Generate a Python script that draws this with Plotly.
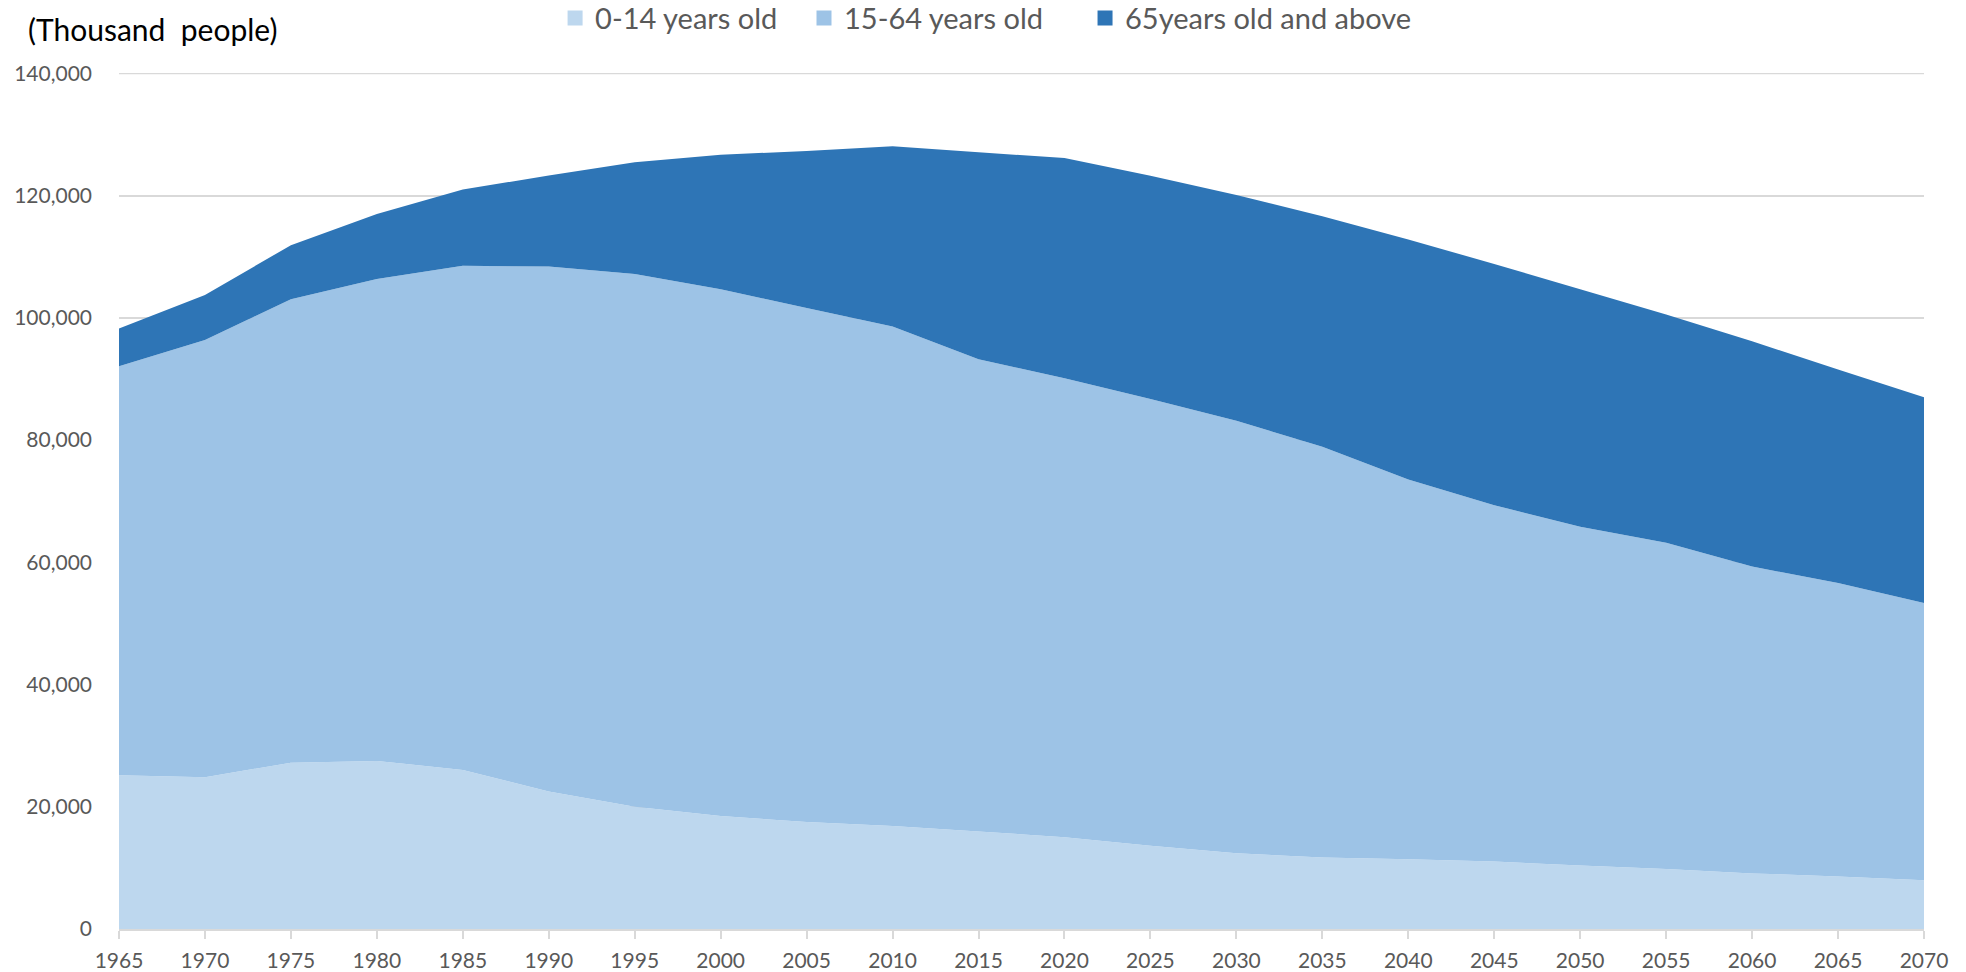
import plotly.graph_objects as go

# Population of Japan by age group (thousand people), census and projection
years = [1965, 1970, 1975, 1980, 1985, 1990, 1995, 2000, 2005, 2010, 2015,
         2020, 2025, 2030, 2035, 2040, 2045, 2050, 2055, 2060, 2065, 2070]

age_0_14 = [25166, 24823, 27221, 27507, 26033, 22486, 20014, 18472, 17521, 16839, 15945,
            15032, 13633, 12397, 11691, 11419, 11027, 10406, 9800, 9100, 8600, 7975]

age_15_64 = [66928, 71566, 75807, 78835, 82506, 85904, 87165, 86220, 84092, 81735, 77282,
             75088, 73101, 70757, 67216, 62133, 58323, 55402, 53400, 50200, 48000, 45350]

age_65_over = [6181, 7331, 8865, 10647, 12468, 14895, 18261, 22005, 25672, 29484, 33868,
               36027, 36529, 36962, 37732, 39285, 39451, 38878, 37350, 36850, 34950, 33671]

series_names = ["0-14 years old", "15-64 years old", "65years old and above"]
series_colors = ["#BDD7EE", "#9DC3E6", "#2E75B6"]
series_values = [age_0_14, age_15_64, age_65_over]

y_ticks = [0, 20000, 40000, 60000, 80000, 100000, 120000, 140000]
y_tick_text = ["0", "20,000", "40,000", "60,000", "80,000", "100,000", "120,000", "140,000"]

FONT = "Lato"
GREY_TEXT = "#595959"
GRID = "#D9D9D9"

fig = go.Figure()

# Stacked areas
for name, color, vals in zip(series_names, series_colors, series_values):
    fig.add_trace(go.Scatter(
        x=years, y=vals, name=name, stackgroup="pop", mode="none",
        fillcolor=color, line=dict(width=0), showlegend=False,
        hovertemplate="%{x}: %{y:,}<extra>" + name + "</extra>",
    ))

# Square legend swatches, one legend box per series so each can be placed on its own
legend_ids = ["legend", "legend2", "legend3"]
legend_x = [0.2416, 0.3795, 0.5352]
for name, color, lid in zip(series_names, series_colors, legend_ids):
    fig.add_trace(go.Scatter(
        x=[None], y=[None], mode="markers", name=name, legend=lid,
        marker=dict(symbol="square", size=15, color=color), showlegend=True,
    ))

legend_style = dict(orientation="h", xanchor="left", y=1.064, yanchor="middle",
                    font=dict(family=FONT, size=29, color=GREY_TEXT),
                    bgcolor="rgba(0,0,0,0)")

# Top gridline at the last y tick
fig.add_shape(type="line", xref="paper", x0=0, x1=1, yref="y",
              y0=y_ticks[-1], y1=y_ticks[-1], line=dict(color=GRID, width=2), layer="below")

fig.update_layout(
    width=1966, height=972,
    margin=dict(l=119, r=42, t=73, b=43, autoexpand=False),
    paper_bgcolor="white", plot_bgcolor="white",
    font=dict(family=FONT, color=GREY_TEXT, size=21),
    title=dict(text="(Thousand  people)", x=28 / 1966, xanchor="left",
               y=1 - 30 / 972, yanchor="middle", xref="container", yref="container",
               font=dict(family=FONT, size=30, color="#000000")),
    legend=dict(x=legend_x[0], **legend_style),
    legend2=dict(x=legend_x[1], **legend_style),
    legend3=dict(x=legend_x[2], **legend_style),
    xaxis=dict(range=[1965, 2070], tickmode="array", tickvals=years,
               ticktext=[str(y) for y in years],
               showgrid=False, zeroline=False, showline=True, linecolor=GRID, linewidth=2,
               ticks="outside", ticklen=8, tickwidth=2, tickcolor=GRID, ticklabelstandoff=4,
               tickfont=dict(family=FONT, size=21, color=GREY_TEXT)),
    yaxis=dict(range=[0, 140060], tickmode="array", tickvals=y_ticks, ticktext=y_tick_text,
               showgrid=True, gridcolor=GRID, gridwidth=2, zeroline=False, showline=False,
               ticks="", ticklabelstandoff=26,
               tickfont=dict(family=FONT, size=21, color=GREY_TEXT)),
)

fig.write_html("out.html")
